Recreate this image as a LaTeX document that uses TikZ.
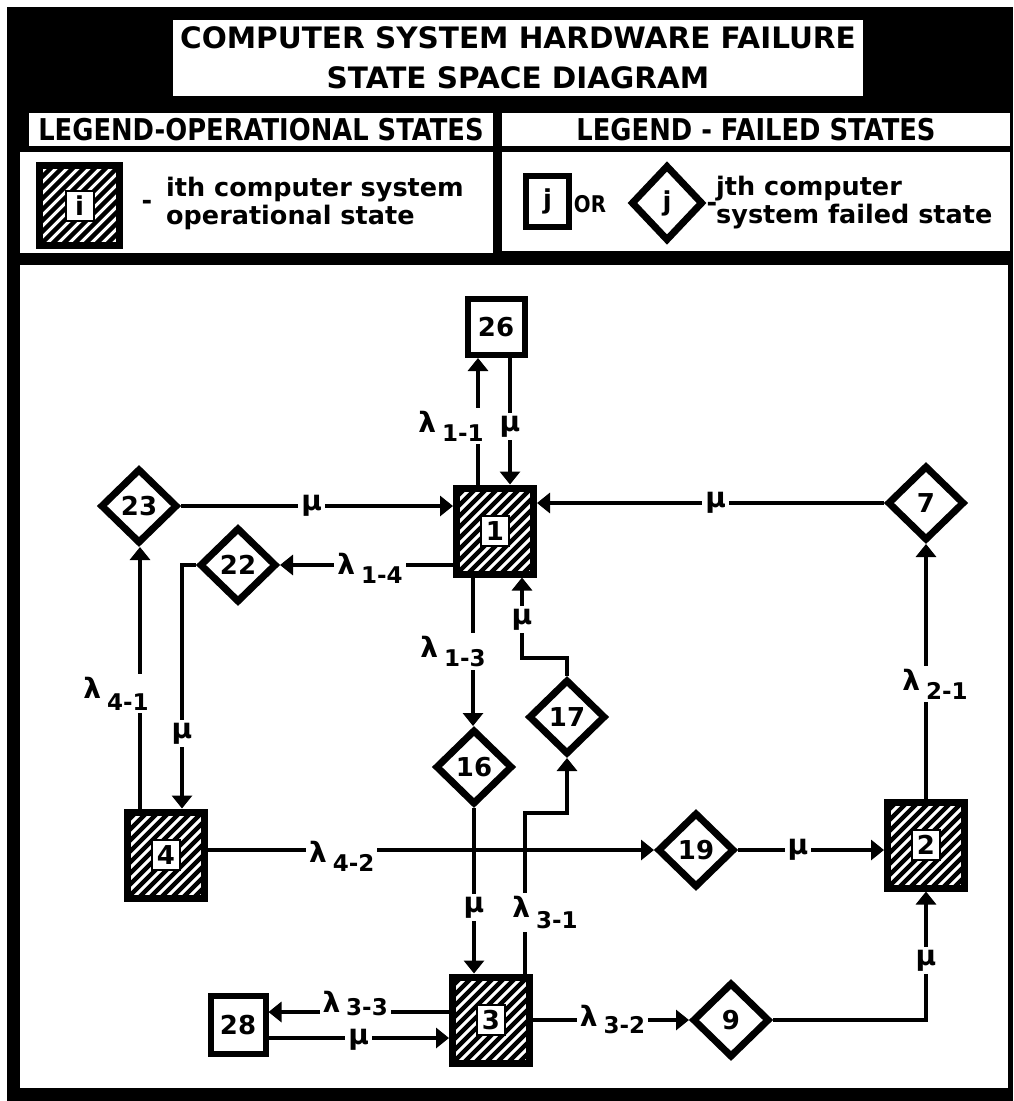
\documentclass[tikz,border=0pt]{standalone}
\usepackage{fontspec}
\setmainfont{DejaVu Sans}
\newfontfamily\headfont[FakeStretch=0.86]{DejaVu Sans}
\usetikzlibrary{arrows.meta,shapes.geometric}

\newcommand\titlefont{\fontsize{29.5}{40}\selectfont\bfseries}
\newcommand\legendfont{\fontsize{25.5}{28}\selectfont\bfseries}
\newcommand\numfont{\fontsize{26}{26}\selectfont\bfseries}
\newcommand\ratefont{\fontsize{28}{28}\selectfont\bfseries}
\newcommand\lam[2][9pt]{λ\hspace{6pt}\raisebox{-#1}{\fontsize{23}{23}\selectfont #2}}

\tikzset{
  flow/.style={-{Triangle[length=13pt,width=20pt]},line width=3.5pt},
  rate/.style={fill=white,inner sep=3pt,font=\ratefont},
  failbox/.style={draw,line width=6pt,fill=white,minimum width=57pt,minimum height=56pt,inner sep=0pt,font=\numfont},
  failstate/.style={diamond,draw,line width=7pt,fill=white,minimum width=77pt,minimum height=75pt,inner sep=0pt,font=\numfont},
  numbox/.style={draw,line width=2pt,fill=white,minimum width=28pt,minimum height=30pt,inner sep=0pt,font=\numfont},
  opstate/.style={draw,line width=7pt,fill=white,minimum width=77pt,minimum height=86pt,
    path picture={\foreach \k in {-121,-110,...,100}
      \draw[line width=4.5pt] ([xshift=\k pt]path picture bounding box.south west) -- ++(140pt,140pt);},
    label={[numbox]center:#1}},
  panel/.style={fill=white},
  heading/.style={fill=white,inner sep=0pt,font=\headfont\fontsize{30}{30}\selectfont\bfseries}
}

\begin{document}
\begin{tikzpicture}[x=1pt,y=-1pt]
  \useasboundingbox (0,0) rectangle (1013,1101);
  \fill[black] (7,7) rectangle (1013,1101);
  % white panels of the sheet
  \fill[panel] (20,152) rectangle (493,253);
  \fill[panel] (502,152) rectangle (1010,251);
  \fill[panel] (20,265) rectangle (1008,1088);

  \node[fill=white,minimum width=690pt,minimum height=76pt,align=center,font=\titlefont] (title) at (518,58)
    {COMPUTER SYSTEM HARDWARE FAILURE\\STATE SPACE DIAGRAM};
  \node[heading,minimum width=464pt,minimum height=33pt] (headop) at (261,129.5) {LEGEND-OPERATIONAL STATES};
  \node[heading,minimum width=508pt,minimum height=33pt] (headfail) at (756,129.5) {LEGEND - FAILED STATES};

  % legend
  \node[opstate=i,minimum width=80pt,minimum height=80pt] (legop) at (79.5,205.5) {};
  \node[font=\legendfont] (legopdash) at (147,205) {-};
  \node[anchor=west,align=left,font=\legendfont,inner sep=0pt] (legoptext) at (166,203)
    {ith computer system\\operational state};
  \node[failbox,minimum width=43pt,minimum height=51pt] (legbox) at (547.5,201.5) {j};
  \node[font=\headfont\fontsize{23}{23}\selectfont\bfseries] (legor) at (590,204) {OR};
  \node[failstate,minimum width=72pt,minimum height=76pt] (legdia) at (667,203) {j};
  \node[font=\legendfont] (legfaildash) at (712,207) {-};
  \node[anchor=west,align=left,font=\legendfont,inner sep=0pt] (legfailtext) at (716,203)
    {jth computer\\system failed state};

  % states
  \node[opstate=1] (n1) at (495,531) {};
  \node[opstate=2] (n2) at (926,845) {};
  \node[opstate=3] (n3) at (491,1020) {};
  \node[opstate=4] (n4) at (166,855) {};
  \node[failbox] (n26) at (496,327) {26};
  \node[failbox,minimum width=55pt,minimum height=58pt] (n28) at (238,1025) {28};
  \node[failstate] (n7) at (926,503) {7};
  \node[failstate] (n9) at (731,1020) {9};
  \node[failstate] (n16) at (474,767) {16};
  \node[failstate] (n17) at (567,717) {17};
  \node[failstate] (n19) at (696,850) {19};
  \node[failstate] (n22) at (238,565) {22};
  \node[failstate] (n23) at (139,506) {23};
  \coordinate (bend31) at (545,813);
  \coordinate (bend17) at (545,658);

  % transitions
  \draw[flow] ([xshift=-17pt]n1.north) -- ([xshift=-17pt]n1.north |- n26.south)
    node[rate,pos=0.46,xshift=-27pt] {\lam{1-1}};
  \draw[flow] ([xshift=14pt]n26.south) -- ([xshift=14pt]n26.south |- n1.north)
    node[rate,pos=0.54] {μ};
  \draw[flow] (n23.east) -- (n23.east -| n1.west) node[rate,pos=0.48] {μ};
  \draw[flow] (n7.west) -- (n7.west -| n1.east) node[rate,pos=0.485] {μ};
  \draw[flow] (n1.west |- n22.east) -- (n22.east) node[rate,pos=0.48,yshift=-3pt] {\lam{1-4}};
  \draw[flow] (n22.west) -| ([xshift=16pt]n4.north) node[rate,pos=0.846] {μ};
  \draw[flow] ([xshift=-26pt]n4.north) -- ([xshift=-26pt]n4.north |- n23.south)
    node[rate,pos=0.44,xshift=-24pt] {\lam[12pt]{4-1}};
  \draw[flow] ([xshift=-22pt]n1.south) -- ([xshift=-22pt]n1.south |- n16.north)
    node[rate,pos=0.5,xshift=-20pt] {\lam{1-3}};
  \draw[flow] (n16.south) -- (n16.south |- n3.north) node[rate,pos=0.6] {μ};
  \draw[flow] ([xshift=34pt]n3.north) |- node[rate,pos=0.19,xshift=20pt] {\lam[11pt]{3-1}} (bend31) -| (n17.south);
  \draw[flow] (n17.north) |- (bend17) -| node[rate,pos=0.74] {μ} ([xshift=27pt]n1.south);
  \draw[flow] (n4.east |- n19.west) -- (n19.west) node[rate,pos=0.3,yshift=-6pt] {\lam{4-2}};
  \draw[flow] (n19.east) -- (n19.east -| n2.west) node[rate,pos=0.41] {μ};
  \draw[flow] (n2.north) -- (n7.south) node[rate,pos=0.45,xshift=9pt] {\lam{2-1}};
  \draw[flow] (n3.east |- n9.west) -- (n9.west) node[rate,pos=0.51] {\lam[7pt]{3-2}};
  \draw[flow] (n9.east) -| (n2.south) node[rate,pos=0.73] {μ};
  \draw[flow] ([yshift=8pt]n3.west) -- ([yshift=8pt]n3.west -| n28.east)
    node[rate,pos=0.52,yshift=8pt,inner ysep=1pt] {\lam[3pt]{3-3}};
  \draw[flow] ([yshift=-13pt]n28.east) -- ([yshift=-13pt]n28.east -| n3.west)
    node[rate,pos=0.5,yshift=-2pt,inner ysep=1pt] {μ};
\end{tikzpicture}
\end{document}
